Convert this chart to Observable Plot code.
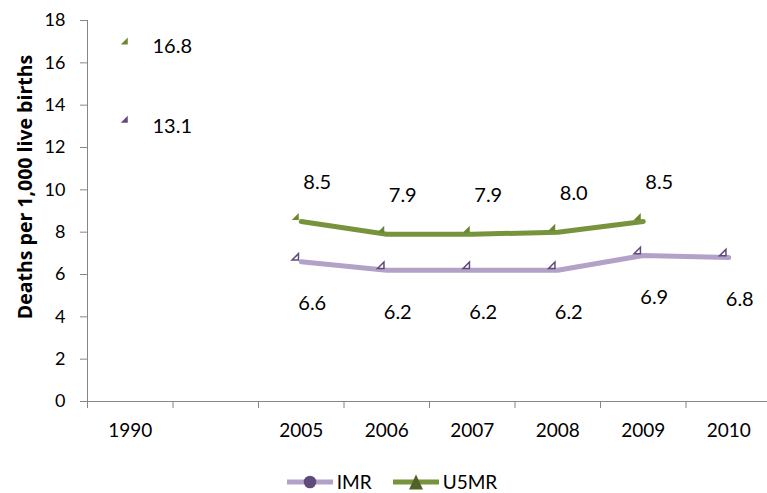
<!DOCTYPE html>
<html>
<head>
<meta charset="utf-8">
<script src="https://cdn.jsdelivr.net/npm/d3@7"></script>
<script src="https://cdn.jsdelivr.net/npm/@observablehq/plot@0.6"></script>
<style>
  html, body { margin: 0; padding: 0; background: white; overflow: hidden; }
  #chart { position: relative; width: 767px; height: 493px; }
  .legend { position: absolute; top: 470px; left: 0; width: 767px; height: 24px; display: flex; justify-content: center; align-items: center; padding-left: 16px; box-sizing: border-box;
    font-family: "Lato", sans-serif; font-size: 19px; line-height: 24px; color: #000; }
  .legend .item { display: flex; align-items: center; margin: 0 10px; }
  .legend svg { display: block; margin-right: 3px; }
</style>
</head>
<body>
<div id="chart"></div>
<script>
// ---- data ----
const years = ["1990", "", "2005", "2006", "2007", "2008", "2009", "2010"];
const imr = [13.1, null, 6.6, 6.2, 6.2, 6.2, 6.9, 6.8];
const u5mr = [16.8, null, 8.5, 7.9, 7.9, 8.0, 8.5, null];
const yTicks = [0, 2, 4, 6, 8, 10, 12, 14, 16, 18];
const seriesNames = ["IMR", "U5MR"];
const yTitle = "Deaths per 1,000 live births";

// ---- styles ----
const FONT = '"Lato", sans-serif';
const GRAY = "#868686";
const IMR_LINE = "#b3a2c7", IMR_MARK = "#604a7b";
const U5_LINE = "#77933c", U5_MARK = "#6a8834", U5_LEG = "#4f6228";

const rows = years.map((year, i) => ({i, year, imr: imr[i], u5mr: u5mr[i]}));
const xc = d => d.i + 0.5;
const fmt = d3.format(".1f");

// corner-triangle marker (Excel-like clipped triangle)
const corner = {
  draw(ctx, size) {
    const r = Math.sqrt(size / Math.PI);
    ctx.moveTo(-r, r);
    ctx.lineTo(r, r);
    ctx.lineTo(r, -r);
    ctx.closePath();
  }
};

const chart = Plot.plot({
  width: 767,
  height: 460,
  marginTop: 20,
  marginBottom: 59,
  marginLeft: 87,
  marginRight: 0,
  style: {fontFamily: FONT, fontSize: "20px", color: "#000", background: "white", overflow: "visible"},
  x: {type: "linear", domain: [0, years.length], range: [87, 771], axis: null},
  y: {domain: [0, 18], axis: null},
  marks: [
    // axes
    Plot.axisY(yTicks, {tickSize: 7, tickFormat: () => "", stroke: GRAY, label: null}),
    Plot.axisY(yTicks, {tickSize: 0, tickPadding: 22, fontSize: 18, fill: "#000", label: null}),
    Plot.axisX(d3.range(0, years.length + 1), {tickSize: 7, tickFormat: () => "", stroke: GRAY, label: null}),
    Plot.axisX(years.map((_, i) => i + 0.5), {tickSize: 0, tickPadding: 22, fontSize: 19, fill: "#000",
      tickFormat: v => years[Math.floor(v)], label: null}),
    Plot.ruleY([0], {stroke: GRAY}),
    Plot.ruleX([0], {stroke: GRAY}),
    Plot.text([yTitle], {frameAnchor: "left", textAnchor: "middle", rotate: -90, dx: -62, dy: -24,
      fontFamily: '"Open Sans", sans-serif', fontWeight: "bold", fontSize: 19.5, fill: "#000"}),
    // lines (the 1990 point stands alone)
    Plot.line(rows, {filter: d => d.i >= 2, x: xc, y: "imr", stroke: IMR_LINE, strokeWidth: 5}),
    Plot.line(rows, {filter: d => d.i >= 2, x: xc, y: "u5mr", stroke: U5_LINE, strokeWidth: 5}),
    // markers
    Plot.dot(rows, {filter: d => d.i === 0, x: xc, y: "imr", symbol: corner, r: 3.5, fill: IMR_MARK, dx: -6, dy: -5}),
    Plot.dot(rows, {filter: d => d.i > 0, x: xc, y: "imr", symbol: corner, r: 3.2, fill: "white", stroke: IMR_MARK, strokeWidth: 1.5, dx: -6, dy: -5}),
    Plot.dot(rows, {x: xc, y: "u5mr", symbol: corner, r: 3.5, fill: U5_MARK, dx: -6, dy: -5}),
    // labels
    Plot.text(rows, {filter: d => d.i === 0, x: xc, y: "u5mr", text: d => fmt(d.u5mr), dx: 42, dy: 1, fontSize: 20, fill: "#000"}),
    Plot.text(rows, {filter: d => d.i === 0, x: xc, y: "imr", text: d => fmt(d.imr), dx: 42, dy: 2, fontSize: 20, fill: "#000"}),
    Plot.text(rows, {filter: d => d.i > 0 && d.u5mr != null, x: xc, y: "u5mr", text: d => fmt(d.u5mr), dx: 16, dy: -39, fontSize: 20, fill: "#000"}),
    Plot.text(rows, {filter: d => d.i > 0 && d.imr != null, x: xc, y: "imr", text: d => fmt(d.imr), dx: 11, dy: 42, fontSize: 20, fill: "#000"})
  ]
});
document.getElementById("chart").appendChild(chart);

// legend (below the svg)
const legend = document.createElement("div");
legend.className = "legend";
legend.innerHTML = `
  <div class="item"><svg width="48" height="16"><line x1="1" y1="8" x2="47" y2="8" stroke="${IMR_LINE}" stroke-width="5"/><circle cx="24" cy="8" r="6.3" fill="${IMR_MARK}"/></svg><span>${seriesNames[0]}</span></div>
  <div class="item"><svg width="48" height="16"><line x1="1" y1="8" x2="47" y2="8" stroke="${U5_LINE}" stroke-width="5"/><path d="M24,0.5L31,15.5L17,15.5Z" fill="${U5_LEG}"/></svg><span>${seriesNames[1]}</span></div>`;
document.getElementById("chart").appendChild(legend);
</script>
</body>
</html>
